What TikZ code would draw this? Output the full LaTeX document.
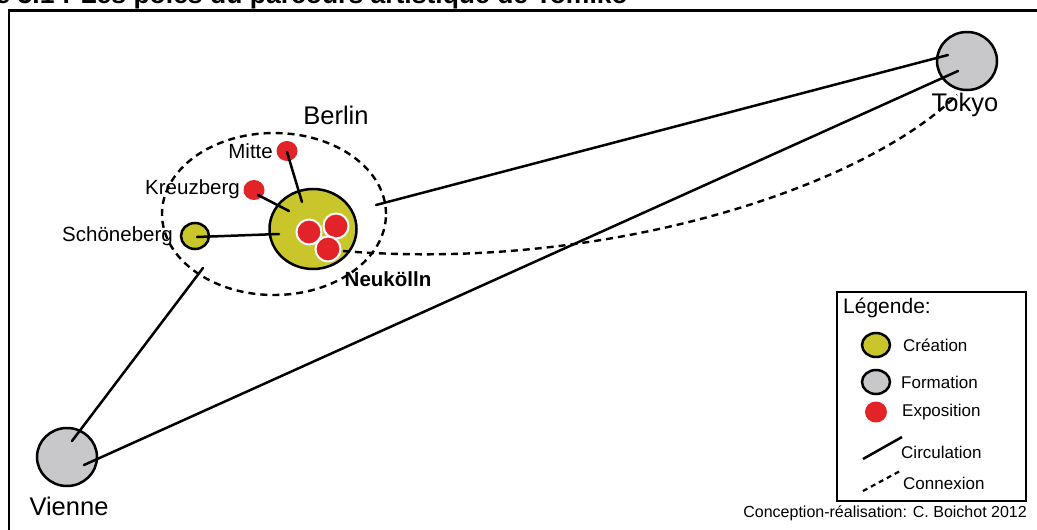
\documentclass[tikz,border=0pt]{standalone}
\usepackage{fontspec}
\setmainfont{Liberation Sans}
\definecolor{crea}{RGB}{201,198,43}
\definecolor{form}{RGB}{200,200,202}
\definecolor{expo}{RGB}{226,35,40}
\tikzset{
  circ/.style={line width=2.5pt, line cap=round},
  dsh/.style={line width=2.4pt, dash pattern=on 7pt off 5pt},
  pole/.style={ellipse, draw=black, line width=2.5pt, inner sep=0pt},
  dot/.style={ellipse, fill=expo, inner sep=0pt},
  reddot/.style={circle, fill=expo, draw=white, line width=2pt, minimum size=25pt, inner sep=0pt},
  lab/.style={inner sep=0pt, font=\fontsize{20.5}{24}\selectfont},
  big/.style={inner sep=0pt, font=\fontsize{25.5}{30}\selectfont},
  leg/.style={inner sep=0pt, anchor=west, font=\fontsize{17}{20}\selectfont},
}
\usetikzlibrary{shapes.geometric}
\begin{document}
\begin{tikzpicture}[x=1pt,y=-1pt]
\useasboundingbox (0,0) rectangle (1037,530);
% frame
\draw[line width=2.3pt] (9,560) -- (9,10.5) -- (1060,10.5);
% title (clipped)
\node[anchor=base east, inner sep=0pt, font=\bfseries\fontsize{26.5}{30}\selectfont] (title) at (628,4) {Figure 3.1 : Les pôles du parcours artistique de Tomiko};

% Berlin dashed ellipse
\node[ellipse, draw, dsh, minimum width=224pt, minimum height=162pt, inner sep=0pt] (berlinzone) at (274,214) {};
\node[big] (berlin) at (336,115) {Berlin};

% poles
\node[pole, fill=crea, minimum width=87pt, minimum height=80pt] (neuk) at (313,229) {};
\node[pole, fill=crea, minimum width=28pt, minimum height=26pt] (schon) at (195,236) {};
\node[pole, fill=form, minimum width=60pt, minimum height=58pt] (tokyo) at (967,61) {};
\node[pole, fill=form, minimum width=60pt, minimum height=58pt] (vienne) at (67,457) {};
\node[dot, minimum width=21pt, minimum height=20pt] (mitte) at (287,151) {};
\node[dot, minimum width=21pt, minimum height=20pt] (kreuz) at (254,190) {};

% connectors in Berlin
\coordinate (nm) at (302,202);
\coordinate (nk) at (289,211);
\coordinate (ns) at (279,234);
\coordinate (ms) at (287,152);
\coordinate (ks) at (258,195);
\coordinate (ss) at (197,237);
\draw[circ] (ms) -- (nm);
\draw[circ] (ks) -- (nk);
\draw[circ] (ss) -- (ns);

% red circles inside Neukolln
\node[reddot] (r1) at (309,232) {};
\node[reddot] (r2) at (336,226) {};
\node[reddot] (r3) at (328,249) {};

% long connectors
\coordinate (bz) at (376,205);
\coordinate (tk1) at (948,55);
\coordinate (tk2) at (958,71);
\coordinate (tk3) at (957,95);
\coordinate (sz) at (203,268);
\coordinate (vi1) at (72,441);
\coordinate (vi2) at (84,465);
\coordinate (nz) at (343,251);
\draw[circ] (bz) -- (tk1);
\draw[circ] (vi2) -- (tk2);
\draw[circ] (sz) -- (vi1);
\draw[dsh] (nz) .. controls (600,272) and (860,190) .. (tk3);

% labels
\node[big] (tokyol) at (965,105) {Tokyo};
\node[big] (viennel) at (69,506) {Vienne};
\node[lab, anchor=east] (mittel) at (273,151) {Mitte};
\node[lab, anchor=east] (kreuzl) at (240,189) {Kreuzberg};
\node[lab, anchor=east] (schonl) at (173,236) {Schöneberg};
\node[lab, font=\bfseries\fontsize{20.5}{24}\selectfont] (neukl) at (388,279) {Neukölln};

% legend
\node[draw, line width=1.5pt, minimum width=189pt, minimum height=209pt, inner sep=0pt, anchor=north west] (legbox) at (836,291) {};
\node[inner sep=0pt, anchor=west, font=\fontsize{21}{24}\selectfont] (legt) at (843,308) {Légende:};
\node[pole, fill=crea, minimum width=28pt, minimum height=24pt] (lc) at (876,345) {};
\node[leg] (lct) at (903,345) {Création};
\node[pole, fill=form, minimum width=28pt, minimum height=24pt] (lf) at (876,382) {};
\node[leg] (lft) at (901,382) {Formation};
\node[dot, minimum width=22pt, minimum height=21pt] (le) at (876,412) {};
\node[leg] (let) at (902,412) {Exposition};
\coordinate (lca) at (863,459);
\coordinate (lcb) at (902,437);
\draw[circ, line cap=butt] (lca) -- (lcb);
\node[leg] (lcit) at (901,452) {Circulation};
\coordinate (lda) at (863,491);
\coordinate (ldb) at (902,470);
\draw[dsh, line width=2.2pt, dash pattern=on 5pt off 4pt] (lda) -- (ldb);
\node[leg] (ldt) at (903,483) {Connexion};

\node[inner sep=0pt, anchor=east, font=\fontsize{16}{19}\selectfont] (credit) at (1027,513) {Conception-réalisation: C. Boichot 2012};
\end{tikzpicture}
\end{document}
